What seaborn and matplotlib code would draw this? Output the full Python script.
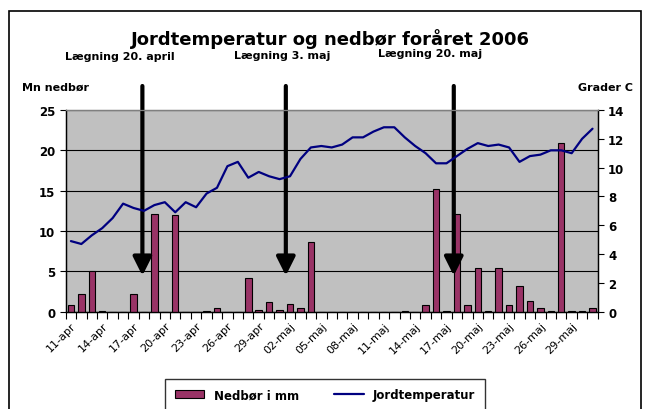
import seaborn as sns
import pandas as pd
import matplotlib.pyplot as plt
from matplotlib.patches import Patch, Rectangle
from matplotlib.lines import Line2D

# data
dates = [f'{d:02d}-apr' for d in range(11, 31)] + [f'{d:02d}-maj' for d in range(1, 32)]
nedbor = [0.8, 2.2, 5.0, 0.1, 0, 0, 2.2, 0, 12.1, 0,
          12.0, 0, 0, 0.1, 0.4, 0, 0, 4.2, 0.15, 1.2,
          0.15, 0.9, 0.4, 8.7, 0, 0, 0, 0, 0, 0,
          0, 0, 0.1, 0, 0.8, 15.2, 0.1, 12.1, 0.8, 5.4,
          0.1, 5.4, 0.8, 3.2, 1.3, 0.5, 0.1, 20.9, 0.1, 0.1,
          0.5]
jordtemp = [4.9, 4.7, 5.3, 5.8, 6.5, 7.5, 7.2, 7.0, 7.4, 7.6,
            6.9, 7.6, 7.25, 8.2, 8.6, 10.1, 10.4, 9.3, 9.7, 9.4,
            9.2, 9.4, 10.6, 11.4, 11.5, 11.4, 11.6, 12.1, 12.1, 12.5,
            12.8, 12.8, 12.1, 11.5, 11.0, 10.3, 10.3, 10.8, 11.3, 11.7,
            11.5, 11.6, 11.4, 10.4, 10.8, 10.9, 11.2, 11.2, 11.0, 12.0,
            12.7]
laegning = ['Lægning 20. april', 'Lægning 3. maj', 'Lægning 20. maj']
arrow_x = [6.85, 20.6, 36.7]

df = pd.DataFrame({'i': range(len(dates)), 'dato': dates, 'nedbor': nedbor, 'temp': jordtemp})

sns.set_style('white')
plt.rcParams['font.family'] = ['DejaVu Sans']
plt.rcParams['text.color'] = 'black'
plt.rcParams['xtick.color'] = 'black'
plt.rcParams['ytick.color'] = 'black'
plt.rcParams['axes.labelcolor'] = 'black'

fig = plt.figure(figsize=(6.5, 4.1), dpi=100)
ax = fig.add_axes([0.1011, 0.2373, 0.8185, 0.492])
ax.set_facecolor('#C0C0C0')

sns.barplot(data=df, x='i', y='nedbor', color='#993366', saturation=1,
            edgecolor='black', linewidth=0.8, width=0.62, ax=ax, zorder=3)
ax.set_ylim(0, 25)
ax.set_xlim(-0.5, len(dates) - 0.5)
ax.set_yticks(range(0, 26, 5))
ax.yaxis.grid(True, color='black', lw=0.8, zorder=1)
ax.set_axisbelow(True)

ax2 = ax.twinx()
sns.lineplot(data=df, x='i', y='temp', color='#000080', lw=1.6, ax=ax2)
ax2.set_ylim(0, 14)
ax2.set_yticks(range(0, 15, 2))
ax2.set_xlim(-0.5, len(dates) - 0.5)

for a in (ax, ax2):
    a.set_xlabel('')
    a.set_ylabel('')
    for s in a.spines.values():
        s.set_color('black')
        s.set_linewidth(0.9)
ax.spines['top'].set_color('#808080')
ax2.spines['top'].set_color('#808080')

ax.set_xticks(range(0, len(dates), 3))
ax.set_xticklabels(dates[::3], rotation=45, ha='right', rotation_mode='anchor', fontsize=8)
ax.set_xticks([k - 0.5 for k in range(len(dates) + 1)], minor=True)
ax.tick_params(axis='x', which='major', length=0, pad=6)
ax.tick_params(axis='x', which='minor', length=5, width=0.8, direction='out', color='black', bottom=True)
ax.tick_params(axis='y', length=4, width=0.8, direction='out', left=True, color='black', labelsize=8.5)
ax2.tick_params(axis='y', length=4, width=0.8, direction='out', right=True, color='black', labelsize=8.5)
for lab in ax.get_yticklabels() + ax2.get_yticklabels():
    lab.set_fontweight('bold')

fig.text(0.508, 0.905, 'Jordtemperatur og nedbør foråret 2006', ha='center', va='center',
         fontsize=13, fontweight='bold')
text_pos = [(65, 57), (234, 56), (378, 54)]
for (tx, ty), t in zip(text_pos, laegning):
    fig.text(tx / 650, 1 - ty / 410, t, ha='left', va='center', fontsize=8, fontweight='bold')
fig.text(22 / 650, 1 - 88 / 410, 'Mn nedbør', ha='left', va='center', fontsize=8, fontweight='bold')
fig.text(578 / 650, 1 - 88 / 410, 'Grader C', ha='left', va='center', fontsize=8, fontweight='bold')

for x in arrow_x:
    ax.annotate('', xy=(x, 4.46), xycoords='data',
                xytext=(x, 1 - 87 / 410), textcoords=('data', 'figure fraction'),
                arrowprops=dict(arrowstyle='-|>,head_length=0.8,head_width=0.4',
                                mutation_scale=14, lw=3, color='black', shrinkA=0, shrinkB=0),
                annotation_clip=False, zorder=10)

handles = [Patch(facecolor='#993366', edgecolor='black', lw=0.8),
           Line2D([0], [0], color='#000080', lw=1.6)]
leg = fig.legend(handles, ['Nedbør i mm', 'Jordtemperatur'], loc='upper center',
                 bbox_to_anchor=(325 / 650, 1 - 374 / 410), ncol=2, frameon=True,
                 fancybox=False, prop={'weight': 'bold', 'size': 8.5}, borderpad=0.8,
                 columnspacing=3.0, handlelength=2.5)
leg.get_frame().set_edgecolor('black')
leg.get_frame().set_linewidth(1)

fig.add_artist(Rectangle((9 / 650, -0.1), 632 / 650, 1.1 - 12 / 410, transform=fig.transFigure,
                         fill=False, edgecolor='black', lw=1.2))

fig.savefig('out.png', dpi=100)
